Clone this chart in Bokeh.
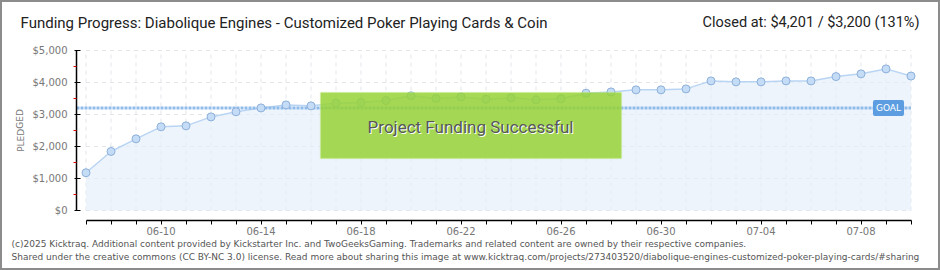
from bokeh.plotting import figure
from bokeh.models import (ColumnDataSource, FixedTicker, Label, BoxAnnotation, Range1d,
                          NumeralTickFormatter)
from bokeh.embed import file_html
from bokeh.resources import INLINE

# ---------------- data ----------------
dates = ["06-07", "06-08", "06-09", "06-10", "06-11", "06-12", "06-13", "06-14",
         "06-15", "06-16", "06-17", "06-18", "06-19", "06-20", "06-21", "06-22",
         "06-23", "06-24", "06-25", "06-26", "06-27", "06-28", "06-29", "06-30",
         "07-01", "07-02", "07-03", "07-04", "07-05", "07-06", "07-07", "07-08",
         "07-09", "07-10"]
pledged = [1180, 1845, 2240, 2615, 2645, 2925, 3085, 3205, 3300, 3270,
           3355, 3375, 3435, 3585, 3500, 3550, 3480, 3520, 3460, 3490,
           3665, 3705, 3770, 3770, 3800, 4050, 4020, 4020, 4050, 4050,
           4185, 4270, 4425, 4201]
goal = 3200
x_tick_labels = ["06-10", "06-14", "06-18", "06-22", "06-26", "06-30", "07-04", "07-08"]
y_ticks = [0, 1000, 2000, 3000, 4000, 5000]
y_minor_ticks = [500, 1500, 2500, 3500, 4500]
title_text = "Funding Progress: Diabolique Engines - Customized Poker Playing Cards & Coin"
closed_text = "Closed at: $4,201 / $3,200 (131%)"
footer1 = ("(c)2025 Kicktraq. Additional content provided by Kickstarter Inc. and TwoGeeksGaming. "
           "Trademarks and related content are owned by their respective companies.")
footer2 = ("Shared under the creative commons (CC BY-NC 3.0) license. Read more about sharing this image at "
           "www.kicktraq.com/projects/273403520/diabolique-engines-customized-poker-playing-cards/#sharing")

idx = list(range(len(dates)))
n = len(dates)

# ---------------- layout (canvas px) ----------------
W, H = 940, 270
X_ORIGIN_PX = 85.5     # canvas x of first day
Y_ZERO_PX = 210.0      # canvas y of $0
PX_PER_DAY = 25.0
PX_PER_USD = 160.0 / 5000.0


def dx(px):
    return (px - X_ORIGIN_PX) / PX_PER_DAY


def dy(py):
    return (Y_ZERO_PX - py) / PX_PER_USD


p = figure(width=W, height=H, output_backend="svg", toolbar_location=None,
           x_range=Range1d(dx(0), dx(W)), y_range=Range1d(dy(H), dy(0)),
           min_border=0)
p.outline_line_color = "#8c8c8c"
p.outline_line_width = 3
p.background_fill_color = "white"
p.border_fill_color = "white"
p.xgrid.visible = False
p.ygrid.visible = False

src = ColumnDataSource(dict(x=idx, y=pledged, base=[0] * n))

# grid lines drawn through scales
grid_color = "#e1e5ea"
p.segment(x0=idx, y0=[0] * n, x1=idx, y1=[5000] * n, line_color=grid_color,
          line_width=1, line_dash="4 4")
p.segment(x0=[0] * len(y_ticks), y0=y_ticks, x1=[n - 1] * len(y_ticks), y1=y_ticks,
          line_color=grid_color, line_width=1, line_dash="4 4")

# area + line
p.varea(x="x", y1="base", y2="y", source=src, fill_color="#e3eefa", fill_alpha=0.65)
p.line(x="x", y="y", source=src, line_color="#b9d5f3", line_width=1.5)

# goal line
p.segment(x0=[dx(76)], y0=[goal], x1=[n - 1], y1=[goal], line_color="#8fbbea",
          line_width=3, line_dash="3 1")

# markers
p.scatter(x="x", y="y", source=src, size=8, fill_color="#c5dcf6",
          line_color="#8db0da", line_width=1)

# GOAL tag
p.add_layout(Label(x=dx(888), y=goal, text="GOAL", text_align="center",
                   text_baseline="middle", text_color="white",
                   text_font="DejaVu Sans", text_font_size="9px",
                   background_fill_color="#5b9de0", padding=3,
                   border_radius=2))

# funding success box
p.add_layout(BoxAnnotation(left=dx(320), right=dx(621), top=dy(92), bottom=dy(158),
                           fill_color="#96d236", fill_alpha=0.85,
                           line_color="#c3ea86", line_width=1.5, level="overlay"))
for off, col in [(1, "white"), (0, "#575757")]:
    p.add_layout(Label(x=dx(470 + off), y=dy(126 + off), text="Project Funding Successful",
                       text_align="center", text_baseline="middle", text_color=col,
                       text_font="Roboto", text_font_size="17px", level="overlay"))

# axes (fixed inside the canvas, offset from the data area like the original)
xa = p.xaxis[0]
xa.fixed_location = dy(220)
xa.ticker = FixedTicker(ticks=idx)
xa.major_label_overrides = {i: (d if d in x_tick_labels else "") for i, d in enumerate(dates)}
xa.bounds = (0, n - 1)
xa.axis_line_color = "black"
xa.axis_line_width = 1.5
xa.major_tick_line_color = "black"
xa.major_tick_out = 4
xa.major_tick_in = 0
xa.minor_tick_line_color = None
xa.major_label_text_color = "#777777"
xa.major_label_text_font = "DejaVu Sans"
xa.major_label_text_font_size = "10px"
xa.major_label_standoff = 2

ya = p.yaxis[0]
ya.fixed_location = dx(76)
ya.ticker = FixedTicker(ticks=y_ticks, minor_ticks=y_minor_ticks)
ya.formatter = NumeralTickFormatter(format="$0,0")
ya.bounds = (0, 5000)
ya.axis_line_color = "black"
ya.axis_line_width = 1.5
ya.major_tick_line_color = "black"
ya.major_tick_out = 2
ya.major_tick_in = 4
ya.minor_tick_line_color = "#e00000"
ya.minor_tick_out = 3
ya.minor_tick_in = 0
ya.major_label_text_color = "#777777"
ya.major_label_text_font = "DejaVu Sans"
ya.major_label_text_font_size = "10px"
ya.major_label_standoff = 6

p.add_layout(Label(x=dx(20), y=dy(130), text="PLEDGED", angle=1.5708,
                   text_align="center", text_baseline="middle", text_color="#777777",
                   text_font="DejaVu Sans", text_font_size="9px"))

# titles and footer
p.add_layout(Label(x=dx(20), y=dy(22), text=title_text, text_align="left",
                   text_baseline="middle", text_color="#222222",
                   text_font="Roboto", text_font_size="15px"))
p.add_layout(Label(x=dx(919), y=dy(22), text=closed_text, text_align="right",
                   text_baseline="middle", text_color="#222222",
                   text_font="Roboto", text_font_size="14.5px"))
p.add_layout(Label(x=dx(11), y=dy(243), text=footer1, text_align="left",
                   text_baseline="middle", text_color="#555555",
                   text_font="DejaVu Sans", text_font_size="9px"))
p.add_layout(Label(x=dx(11), y=dy(256), text=footer2, text_align="left",
                   text_baseline="middle", text_color="#555555",
                   text_font="DejaVu Sans", text_font_size="9px"))

open("out.html", "w").write(file_html(p, INLINE))
